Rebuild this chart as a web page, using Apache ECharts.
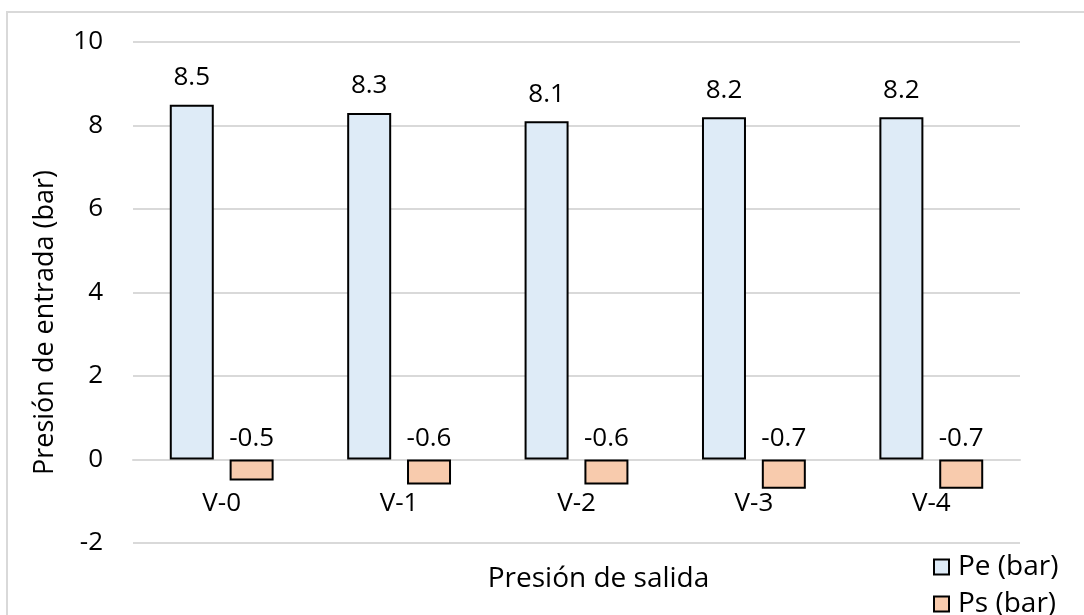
<!DOCTYPE html>
<html>
<head>
<meta charset="utf-8">
<script src="https://cdn.jsdelivr.net/npm/echarts@6/dist/echarts.min.js"></script>
<style>
  html, body { margin: 0; padding: 0; background: #ffffff; }
  #chart { width: 1084px; height: 615px; }
</style>
</head>
<body>
<div id="chart"></div>
<script>
// Valve positions and measured pressures (bar)
const categories = ['V-0', 'V-1', 'V-2', 'V-3', 'V-4'];
const peValues = [8.5, 8.3, 8.1, 8.2, 8.2];
const psValues = [-0.5, -0.6, -0.6, -0.7, -0.7];
const seriesNames = ['Pe (bar)', 'Ps (bar)'];
const yTicks = { min: -2, max: 10, interval: 2 };

const FONT = '"Open Sans", "Liberation Sans", sans-serif';
const TEXT = '#000000';

const chart = echarts.init(document.getElementById('chart'), null, { renderer: 'canvas' });

// One single-entry legend per series, stacked at the bottom right
function legendRow(name, top) {
  return {
    orient: 'vertical',
    left: 933,
    top: top,
    padding: 0,
    itemWidth: 15,
    itemHeight: 15,
    icon: 'rect',
    itemStyle: { borderColor: '#000000', borderWidth: 2 },
    textStyle: { fontFamily: FONT, fontSize: 28, lineHeight: 20, color: TEXT, padding: [0, 0, 0, 4] },
    data: [name]
  };
}

chart.setOption({
  backgroundColor: '#ffffff',
  animation: false,
  textStyle: { fontFamily: FONT, color: TEXT },
  graphic: [{
    type: 'rect',
    shape: { x: 7, y: 12, width: 1200, height: 800 },
    style: { fill: 'none', stroke: '#d9d9d9', lineWidth: 2 },
    silent: true,
    z: -1
  }],
  grid: {
    left: 133, right: 64, top: 42, bottom: 72,
    containLabel: false,
    outerBoundsMode: 'none'
  },
  legend: [legendRow(seriesNames[0], 553), legendRow(seriesNames[1], 590)],
  xAxis: {
    type: 'category',
    data: categories,
    axisLine: { show: true, onZero: false, lineStyle: { color: '#d9d9d9', width: 2 } },
    axisTick: { show: false },
    axisLabel: { margin: 31, fontSize: 26, color: TEXT, fontFamily: FONT },
    name: 'Presión de salida',
    nameLocation: 'middle',
    nameGap: 106,
    nameTextStyle: { fontSize: 28, color: TEXT, fontFamily: FONT, padding: [0, 0, 0, 44] }
  },
  yAxis: {
    type: 'value',
    min: yTicks.min,
    max: yTicks.max,
    interval: yTicks.interval,
    axisLine: { show: false },
    axisTick: { show: false },
    splitLine: { lineStyle: { color: '#d9d9d9', width: 2 } },
    axisLabel: { margin: 30, fontSize: 26, color: TEXT, fontFamily: FONT },
    name: 'Presión de entrada (bar)',
    nameLocation: 'middle',
    nameGap: 74,
    nameTextStyle: { fontSize: 27, color: TEXT, fontFamily: FONT, padding: [0, 60, 0, 0] }
  },
  series: [
    {
      name: seriesNames[0],
      type: 'bar',
      data: peValues,
      barWidth: 44,
      barGap: '36%',
      itemStyle: { color: '#deebf7', borderColor: '#000000', borderWidth: 2 },
      label: {
        show: true,
        position: 'top',
        distance: 14,
        fontSize: 26,
        color: TEXT,
        fontFamily: FONT
      }
    },
    {
      name: seriesNames[1],
      type: 'bar',
      data: psValues,
      barWidth: 44,
      itemStyle: { color: '#f8cbad', borderColor: '#000000', borderWidth: 2 },
      label: {
        show: true,
        position: 'top',
        distance: 8,
        fontSize: 26,
        color: TEXT,
        fontFamily: FONT
      }
    }
  ]
});

// Move the category axis up so that it crosses the value axis at zero
const zeroPx = chart.convertToPixel({ yAxisIndex: 0 }, 0);
const bottomPx = chart.convertToPixel({ yAxisIndex: 0 }, yTicks.min);
chart.setOption({ xAxis: { offset: -(bottomPx - zeroPx) } });
</script>
</body>
</html>
